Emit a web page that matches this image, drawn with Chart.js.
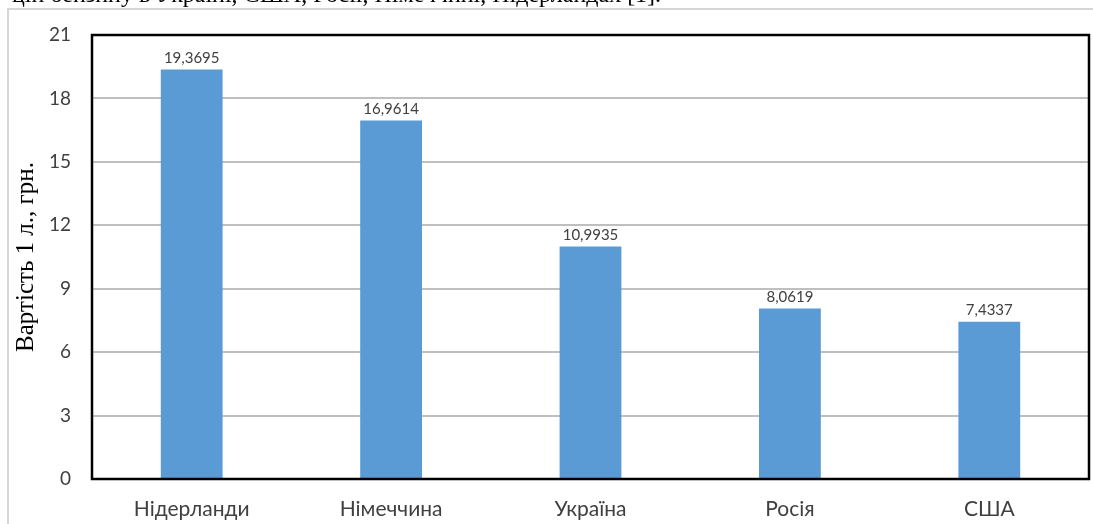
<!DOCTYPE html>
<html>
<head>
<meta charset="utf-8">
<script src="https://cdn.jsdelivr.net/npm/chart.js@4"></script>
<style>
  html, body { margin: 0; padding: 0; background: #fff; }
  #wrap { width: 1093px; height: 524px; }
</style>
</head>
<body>
<div id="wrap"><canvas id="chart" width="1093" height="524"></canvas></div>
<script>
// Data
const countries = ['Нідерланди', 'Німеччина', 'Україна', 'Росія', 'США'];
const prices = [19.3695, 16.9614, 10.9935, 8.0619, 7.4337];
const priceLabels = ['19,3695', '16,9614', '10,9935', '8,0619', '7,4337'];
const yTitle = 'Вартість 1 л., грн.';
const captionLine = 'цін бензину в Україні, США, Росії, Німеччині, Нідерландах [1].';

// page frame + cut-off text line above the chart
const framePlugin = {
  id: 'frame',
  beforeDraw(chart) {
    const ctx = chart.ctx;
    ctx.save();
    ctx.fillStyle = '#000';
    ctx.font = '24px "Liberation Serif"';
    ctx.textBaseline = 'alphabetic';
    ctx.fillText(captionLine, 12, 2);
    ctx.strokeStyle = '#d6d6d6';
    ctx.lineWidth = 2;
    ctx.beginPath();
    ctx.moveTo(8, 530);
    ctx.lineTo(8, 9);
    ctx.lineTo(1100, 9);
    ctx.stroke();
    ctx.restore();
  },
  afterDatasetsDraw(chart) {
    const ctx = chart.ctx;
    const a = chart.chartArea;
    ctx.save();
    ctx.strokeStyle = '#000';
    ctx.lineWidth = 2.5;
    ctx.strokeRect(a.left, a.top, a.right - a.left, a.bottom - a.top);

    // value labels over bars
    const meta = chart.getDatasetMeta(0);
    ctx.fillStyle = '#404040';
    ctx.font = '15px Lato';
    ctx.textAlign = 'center';
    ctx.textBaseline = 'bottom';
    meta.data.forEach((bar, i) => {
      ctx.fillText(priceLabels[i], bar.x, bar.y - 4);
    });
    ctx.restore();
  }
};

new Chart(document.getElementById('chart'), {
  type: 'bar',
  data: {
    labels: countries,
    datasets: [{
      data: prices,
      backgroundColor: '#5B9BD5',
      borderWidth: 0,
      categoryPercentage: 1,
      barPercentage: 0.31
    }]
  },
  options: {
    responsive: false,
    animation: false,
    layout: { padding: { top: 35, right: 4, left: 0, bottom: 0 } },
    plugins: {
      legend: { display: false },
      tooltip: { enabled: false }
    },
    scales: {
      x: {
        grid: { display: false, drawTicks: false },
        border: { display: false },
        ticks: {
          color: '#404040',
          font: { family: 'Lato', size: 21 },
          padding: 18
        },
        afterFit(scale) { scale.height = 45; }
      },
      y: {
        min: 0,
        max: 21,
        ticks: {
          stepSize: 3,
          color: '#404040',
          font: { family: 'Lato', size: 19 },
          padding: 21
        },
        grid: {
          drawTicks: false,
          color: (c) => (c.tick.value === 0 || c.tick.value === 21) ? 'rgba(0,0,0,0)' : '#bfbfbf',
          lineWidth: 2
        },
        border: { display: false },
        title: {
          display: true,
          text: yTitle,
          color: '#000',
          font: { family: 'Liberation Serif', size: 25 },
          padding: { top: 11, bottom: 0 }
        },
        afterFit(scale) { scale.width = 92; }
      }
    }
  },
  plugins: [framePlugin]
});
</script>
</body>
</html>
